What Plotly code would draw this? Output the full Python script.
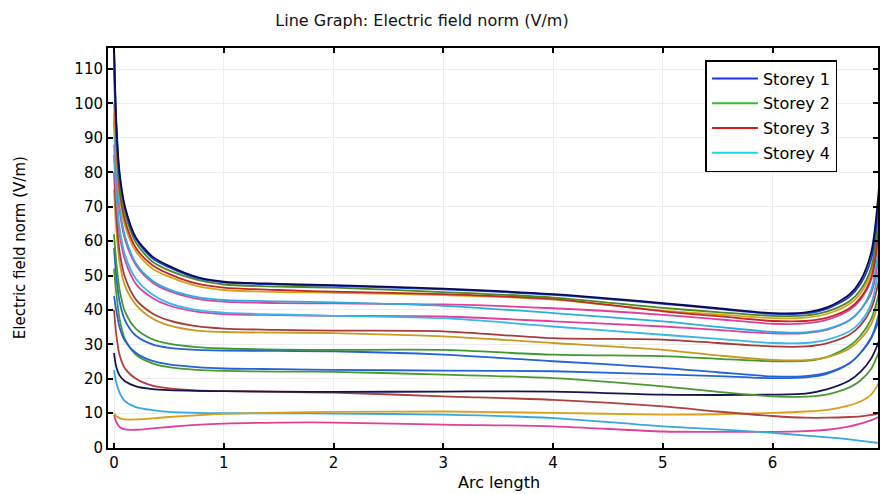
import plotly.graph_objects as go

arc = [0, 0.02, 0.05, 0.1, 0.2, 0.35, 0.5, 0.75, 1, 1.5, 2, 3, 4, 5, 5.5, 6, 6.3, 6.5, 6.7, 6.8, 6.9, 6.97]

c1 = [116, 95, 80, 70, 61, 55.5, 52.8, 49.6, 48.2, 47.6, 47.2, 46.2, 44.6, 42.0, 40.5, 39.1, 39.3, 40.8, 44.5, 48.5, 57, 76]
c2 = [116, 94, 79, 69.5, 60.5, 55, 52.4, 49.3, 48.0, 47.4, 47.0, 46.0, 44.4, 41.8, 40.3, 38.9, 39.0, 40.4, 43.8, 47.5, 55, 73]
c3 = [116, 92, 77, 68, 59.5, 54, 51.5, 48.8, 47.4, 46.8, 46.5, 45.2, 43.6, 40.6, 39.4, 38.3, 38.4, 39.6, 42.5, 45.8, 52.5, 69]
c4 = [110, 90, 75, 66, 58, 53, 50.5, 47.7, 46.5, 45.8, 45.3, 44.6, 43.2, 39.6, 38.2, 36.8, 36.8, 37.8, 40.5, 43.5, 49.5, 65]
c5 = [100, 86, 73, 64.5, 57, 52, 49.7, 47, 45.8, 45.2, 45.0, 44.3, 43.0, 39.8, 38.7, 37.6, 37.8, 38.9, 41.7, 44.8, 51, 67]
c6 = [97, 82, 70, 61.5, 53.5, 48.5, 46, 43.8, 42.9, 42.5, 42.2, 41.2, 39.1, 36.7, 35.1, 33.6, 33.5, 34.5, 37, 40, 46, 59]
c7 = [95, 80, 69, 60.5, 53, 48, 45.5, 43.3, 42.4, 42.0, 41.9, 41.6, 40.5, 38.6, 37.3, 36.0, 36.1, 37.2, 40, 43, 49, 62]
c8 = [88, 75, 64, 56, 49, 44.5, 42, 40, 39.2, 38.7, 38.3, 37.6, 35.2, 32.8, 31.6, 30.4, 30.4, 31.4, 33.8, 36.5, 42, 53]
c9 = [85, 73, 62, 54.5, 47.5, 43.5, 41.3, 39.5, 38.8, 38.5, 38.3, 38.1, 36.7, 35.2, 34.2, 33.2, 33.3, 34.3, 37, 40, 45, 56]
c10 = [80, 68, 57, 49.5, 43, 39, 37, 35.3, 34.6, 34.2, 34.0, 33.8, 31.8, 31.4, 30.4, 29.4, 29.4, 30.4, 32.8, 35.5, 40.5, 49]
c11 = [75, 64, 54, 47, 41.5, 37.5, 35.5, 34, 33.6, 33.4, 33.3, 32.3, 30.4, 28.4, 26.8, 25.5, 25.4, 26.3, 28.8, 31.5, 36, 43]
c12 = [62, 54, 46, 39.5, 34.5, 31.5, 30.2, 29.2, 28.8, 28.5, 28.4, 28.4, 27.0, 26.6, 25.8, 25.1, 25.2, 26.4, 29.5, 32.5, 37.5, 45]
c13 = [58, 50, 42.5, 37, 32.5, 30, 29, 28.4, 28.2, 28.1, 28.0, 27.0, 25.1, 23.2, 21.9, 20.7, 20.8, 21.8, 24.5, 27.5, 32, 37]
c14 = [44, 40, 35, 31, 27.5, 25.2, 24.2, 23.4, 23.0, 22.8, 22.6, 22.4, 22.2, 21.3, 20.8, 20.2, 20.4, 21.5, 24.5, 27.5, 32, 39]
c15 = [52, 45, 37.5, 31.5, 27, 24.5, 23.4, 22.6, 22.3, 22.1, 22.0, 21.2, 20.2, 17.8, 16.2, 14.9, 14.8, 15.5, 17.5, 19.5, 23, 28]
c16 = [27.5, 23.5, 21, 19.3, 17.8, 17, 16.7, 16.5, 16.4, 16.3, 16.2, 16.3, 16.3, 15.4, 15.3, 15.4, 15.7, 17, 19.5, 22, 26, 31]
c17 = [40, 33, 27, 23, 20, 18, 17.2, 16.6, 16.4, 16.2, 16.0, 14.9, 13.9, 12.0, 10.5, 9.2, 8.7, 8.7, 8.9, 9.1, 9.5, 10]
c18 = [10, 9.2, 8.6, 8.2, 8.2, 8.5, 8.9, 9.4, 9.8, 10.2, 10.4, 10.5, 10.1, 9.6, 9.7, 10.1, 10.5, 11, 12.3, 13.4, 15.5, 19]
c19 = [22.5, 19, 16, 13.5, 11.8, 10.9, 10.4, 10.1, 10.0, 10.0, 9.9, 9.6, 8.6, 6.2, 5.3, 4.3, 3.5, 3.0, 2.4, 2.0, 1.6, 1.3]
c20 = [9.5, 7.5, 6, 5.3, 5.2, 5.6, 6, 6.6, 7.0, 7.3, 7.3, 6.7, 6.2, 4.7, 4.6, 4.6, 4.8, 5.2, 6.2, 7, 8, 9]

# draw order: bottom first, top curves last
curves = [c20, c19, c18, c17, c16, c15, c14, c13, c12, c11, c10, c9, c8, c7, c6, c5, c4, c3, c2, c1]
colors = ["#e0409a", "#34a8e0", "#d9a01c", "#b04040", "#141450", "#4a9a30", "#2462d8", "#2462d8",
          "#3e9a2e", "#c89a20", "#a83a3a", "#e0409a", "#38b8e8", "#e0409a", "#2aaee0", "#d9a01c",
          "#c0282a", "#4a8a22", "#1f3fd6", "#0b0b55"]

legend_names = ["Storey 1", "Storey 2", "Storey 3", "Storey 4"]
legend_colors = ["#1a36e8", "#30c030", "#e01818", "#18d8e0"]

x_ticks = [0, 1, 2, 3, 4, 5, 6]
y_ticks = [0, 10, 20, 30, 40, 50, 60, 70, 80, 90, 100, 110]

fig = go.Figure()
for ys, col in zip(curves, colors):
    fig.add_trace(go.Scatter(x=arc, y=ys, mode="lines", line=dict(color=col, width=1.8, shape="spline", smoothing=0.8),
                             showlegend=False, hoverinfo="skip"))
for i, (nm, col) in enumerate(zip(legend_names, legend_colors)):
    fig.add_trace(go.Scatter(x=[None], y=[None], mode="lines", name=nm, legendgroup=nm,
                             line=dict(color=col, width=2)))

W, H = 880, 494
L, R, T, B = 108, 0, 48, 46
PW, PH = W - L - R, H - T - B
fig.update_layout(
    width=W, height=H, autosize=False,
    margin=dict(l=L, r=R, t=T, b=B),
    paper_bgcolor="white", plot_bgcolor="white",
    font=dict(family="DejaVu Sans", size=15, color="black"),
    title=dict(text="Line Graph: Electric field norm (V/m)", x=422 / W, xref="container", xanchor="center",
               y=1 - 20 / H, yref="container", yanchor="middle", font=dict(size=16, color="#111")),
    legend=dict(x=(707 - L) / PW, y=1 - (60 - T) / PH, xanchor="left", yanchor="top",
                bordercolor="black", borderwidth=1.5, bgcolor="white", tracegroupgap=1,
                font=dict(size=16, color="black"), itemwidth=46, entrywidth=134, entrywidthmode="pixels"),
    showlegend=True,
)
axis_common = dict(ticks="inside", ticklen=5, tickwidth=2, tickcolor="black",
                   showline=True, linecolor="black", linewidth=2, mirror="ticks",
                   showgrid=True, gridcolor="#ececec", gridwidth=1, zeroline=False,
                   tickfont=dict(size=15, color="black"))
fig.update_xaxes(range=[-0.055, 6.96], tickvals=x_ticks, **axis_common)
fig.update_yaxes(range=[-0.1, 116.1], tickvals=y_ticks, **axis_common)
fig.add_annotation(text="Electric field norm (V/m)", textangle=-90, x=(20 - L) / PW, xref="paper",
                   xanchor="center", y=0.5, yref="paper", yanchor="middle",
                   showarrow=False, font=dict(size=15, color="black"))
fig.add_annotation(text="Arc length", x=(500 - L) / PW, xref="paper", y=-(483 - 448) / PH, yref="paper",
                   xanchor="center", yanchor="middle", showarrow=False, font=dict(size=16, color="black"))
fig.write_html("out.html", config={"displayModeBar": False},
               post_script="document.body.style.margin='0px';document.body.style.overflow='hidden';")
